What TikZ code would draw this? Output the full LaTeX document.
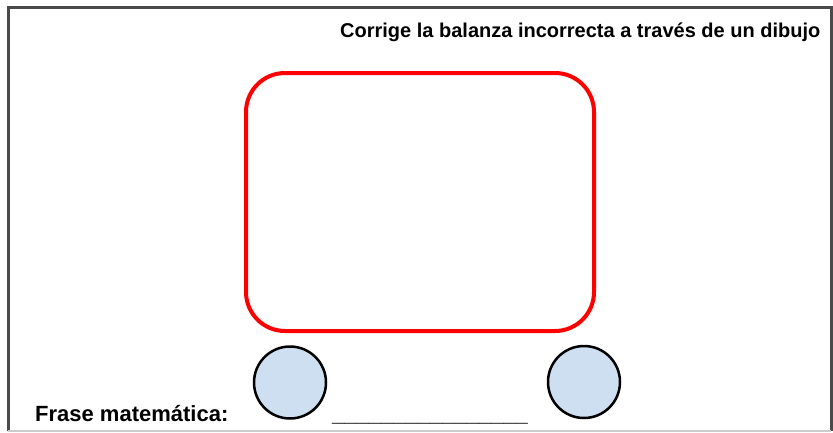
\documentclass[tikz,border=0pt]{standalone}
\usepackage{fontspec}
\setmainfont{Liberation Sans}
\usepackage{tikz}
\definecolor{framegray}{HTML}{4A4A4A}
\definecolor{wheelblue}{HTML}{CDDFF1}
\tikzset{
  wheel/.style={circle,draw=black,fill=wheelblue,line width=2.5pt,minimum size=72pt,inner sep=0pt},
  label text/.style={inner sep=0pt,font=\bfseries\fontsize{22}{26}\selectfont}
}
\begin{document}
\begin{tikzpicture}[x=1pt,y=-1pt]
   \useasboundingbox (0,0) rectangle (833,432);
   % Frame
   \draw[framegray,line width=3pt] (8,431) -- (8,7) -- (831,7) -- (831,431);
   \draw[black!20,line width=1.5pt] (8,431) -- (831,431);
   % Title
   \node[anchor=base west,inner sep=0pt,font=\bfseries\fontsize{20}{24}\selectfont] (title) at (340,37.3) {Corrige la balanza incorrecta a través de un dibujo};
   % Box
   \node[draw=red,line width=4pt,rounded corners=39pt,minimum width=348pt,minimum height=258pt,inner sep=0pt] (box) at (420,202) {};
   % Wheels
   \node[wheel] (wheelL) at (290,382.5) {};
   \node[wheel] (wheelR) at (584,382) {};
   % Bottom line
   \node[label text,anchor=base west] (frase) at (35,421.5) {Frase matemática:};
   \node[label text,anchor=base west] (blank) at (332,421.5) {\_\_\_\_\_\_\_\_\_\_\_\_\_\_\_\_};
\end{tikzpicture}
\end{document}
